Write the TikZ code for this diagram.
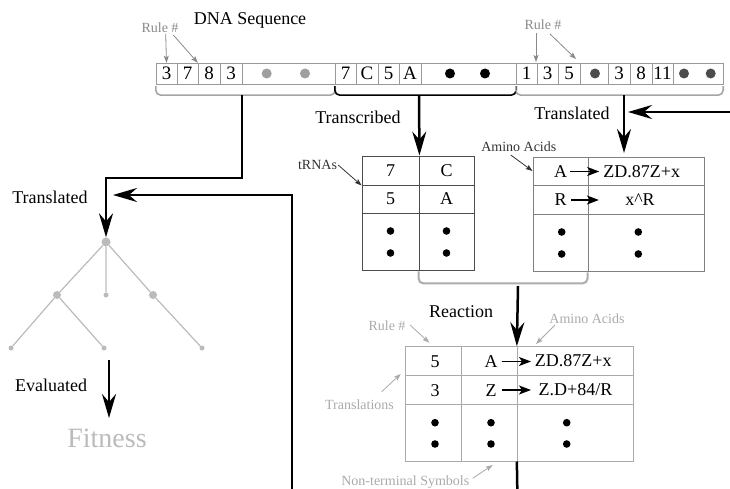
\documentclass[tikz,border=0pt]{standalone}
\usepackage{fontspec}
\setmainfont{Liberation Serif}
\usetikzlibrary{arrows.meta}

\definecolor{lblgray}{HTML}{8A8A8A}
\definecolor{palegray}{HTML}{AAAAAA}
\definecolor{treegray}{HTML}{BBBBBB}
\definecolor{darklbl}{HTML}{333333}

\begin{document}
\begin{tikzpicture}[x=1pt,y=-1pt,
  txt/.style={font=\fontsize{18}{20}\selectfont, inner sep=1pt},
  small/.style={font=\fontsize{14}{16}\selectfont, inner sep=1pt},
  scell/.style={draw=gray!80, minimum height=21pt, inner sep=0pt,
    font=\fontsize{19}{21}\selectfont, minimum width=#1},
  tcell/.style 2 args={draw, minimum width=#1, minimum height=#2, inner sep=0pt},
  bigarrow/.style={line width=2.5pt, -{Stealth[length=24pt,width=14pt,inset=8pt]}},
  plainline/.style={line width=2.5pt},
  smallarrow/.style={line width=1.3pt, -{Stealth[length=12pt,width=9pt,inset=3pt]}},
  lblarrow/.style={line width=0.8pt, -{Stealth[length=7pt,width=5pt,inset=1.5pt]}},
  brace/.style={line width=1.6pt, rounded corners=5pt},
  tdot/.style={circle, fill=treegray, inner sep=0pt, minimum size=#1},
  tline/.style={draw=treegray, line width=1.2pt},
]
\path[use as bounding box] (0,0) rectangle (730,489);

% ---------- DNA strip ----------
\node[txt] (title) at (250,20) {DNA Sequence};

\node[scell=21pt] (a1) at (166.5,73.5) {3};
\node[scell=21pt] (a2) at (187.5,73.5) {7};
\node[scell=22pt] (a3) at (209,73.5) {8};
\node[scell=22pt] (a4) at (231,73.5) {3};
\node[scell=93pt] (a5) at (288.5,73.5) {};
\node[scell=21pt] (b1) at (345.5,73.5) {7};
\node[scell=22pt] (b2) at (367,73.5) {C};
\node[scell=21pt] (b3) at (388.5,73.5) {5};
\node[scell=22pt] (b4) at (410,73.5) {A};
\node[scell=95pt] (b5) at (468.5,73.5) {};
\node[scell=21pt] (c1) at (526.5,73.5) {1};
\node[scell=21pt] (c2) at (547.5,73.5) {3};
\node[scell=22pt] (c3) at (569,73.5) {5};
\node[scell=28pt] (c4) at (594,73.5) {};
\node[scell=22pt] (c5) at (619,73.5) {3};
\node[scell=22pt] (c6) at (641,73.5) {8};
\node[scell=21pt] (c7) at (662.5,73.5) {11};
\node[scell=50pt] (c8) at (698,73.5) {};

\fill[gray!75] (266.7,73.5) circle[radius=5pt] (305,73.5) circle[radius=5pt];
\fill[black] (450,73.5) circle[radius=5pt] (485,73.5) circle[radius=5pt];
\fill[black!70] (595,73.5) circle[radius=5pt] (684,73.5) circle[radius=5pt]
  (710.7,73.5) circle[radius=5pt];

% brackets under the three segments
\draw[brace, draw=gray!70] ([yshift=-2pt]a1.south west) -- ++(0,9) -| ([yshift=-2pt]a5.south east);
\draw[brace, draw=black] ([yshift=-2pt]b1.south west) -- ++(0,9) -| ([yshift=-2pt]b5.south east);
\draw[brace, draw=gray!70] ([yshift=-2pt]c1.south west) -- ++(0,9) -| ([yshift=-2pt]c8.south east);

% rule-number pointers on the strip
\node[small, text=lblgray] (ruleA) at (160,28) {Rule \#};
\draw[lblarrow, draw=lblgray] (165.7,34) -- (a1.north);
\draw[lblarrow, draw=lblgray] (173.3,35) -- (a3.north west);
\node[small, text=lblgray] (ruleC) at (543,25) {Rule \#};
\draw[lblarrow, draw=lblgray] (536,33) -- (536,62);
\draw[lblarrow, draw=lblgray] (550,34) -- (576,59);

% ---------- tree branch (left) ----------
\coordinate (brA) at (242,95);
\coordinate (bendA) at (242,178);
\node[tdot=9pt] (root) at (106,242) {};
\draw[bigarrow] (brA) -- (bendA) -| (root.north);
\node[txt] (transL) at (50,197) {Translated};

\coordinate (loopS) at (292,489);
\coordinate (loopE) at (113,195);
\draw[bigarrow] (loopS) |- (loopE);

\node[tdot=8pt] (n1) at (57,295) {};
\node[tdot=5pt] (n2) at (106,295) {};
\node[tdot=8pt] (n3) at (153,295) {};
\node[tdot=5pt] (m1) at (11,348) {};
\node[tdot=5pt] (m2) at (104,348) {};
\node[tdot=5pt] (m3) at (202,348) {};
\path[tline] (root) -- (n1) (root) -- (n2) (root) -- (n3)
  (n1) -- (m1) (n1) -- (m2) (n3) -- (m3);

\node[txt] (evalL) at (51,385) {Evaluated};
\node[font=\fontsize{28}{30}\selectfont, text=treegray, inner sep=0pt] (fit) at (107,438) {Fitness};
\coordinate (evS) at (109,360);
\coordinate (evE) at (109,418);
\draw[bigarrow] (evS) -- (evE);

% ---------- tRNA table ----------
\coordinate (brB) at (419,96);
\begin{scope}[every node/.append style={draw=black!70, line width=0.9pt}]
\node[tcell={57pt}{29pt}] (t11) at (390.5,170.5) {};
\node[tcell={55pt}{29pt}] (t12) at (446.5,170.5) {};
\node[tcell={57pt}{28pt}] (t21) at (390.5,199) {};
\node[tcell={55pt}{28pt}] (t22) at (446.5,199) {};
\node[tcell={57pt}{57pt}] (t31) at (390.5,241.5) {};
\node[tcell={55pt}{57pt}] (t32) at (446.5,241.5) {};
\end{scope}
\node[txt] at (t11) {7};
\node[txt] at (t12) {C};
\node[txt] at (t21) {5};
\node[txt] at (t22) {A};
\foreach \c in {t31,t32}
  \fill ([yshift=10.5pt]\c.center) circle[radius=3.8pt] ([yshift=-11.5pt]\c.center) circle[radius=3.8pt];
\draw[bigarrow] (brB) -- (t11.north east);
\node[txt] (transc) at (358,117) {Transcribed};
\node[small, text=darklbl] (trna) at (317.5,165) {tRNAs};
\draw[lblarrow, draw=darklbl] (trna.east) -- (t11.south west);

% ---------- amino acid table ----------
\coordinate (brC) at (624,95);
\coordinate (feedS) at (730,112);
\coordinate (feedE) at (628,112);
\begin{scope}[every node/.append style={draw=black!50, line width=0.9pt}]
\node[tcell={55pt}{28pt}] (u11) at (560.5,171) {};
\node[tcell={116pt}{28pt}] (u12) at (646,171) {};
\node[tcell={55pt}{29pt}] (u21) at (560.5,199.5) {};
\node[tcell={116pt}{29pt}] (u22) at (646,199.5) {};
\node[tcell={55pt}{57pt}] (u31) at (560.5,242.5) {};
\node[tcell={116pt}{57pt}] (u32) at (646,242.5) {};
\end{scope}
\node[txt] (ua1) at (560.7,171.5) {A};
\node[txt] (uz1) at (641.7,171.5) {ZD.87Z+x};
\node[txt] (ur2) at (560.7,200) {R};
\node[txt] (ux2) at (640,200) {x\textasciicircum R};
\draw[smallarrow] ([xshift=1.5pt]ua1.east) -- ([xshift=-3pt]uz1.west);
\draw[smallarrow] ([xshift=3pt]ur2.east) -- ++(28,0);
\fill (561.7,232) circle[radius=3.8pt] (561.7,254) circle[radius=3.8pt]
  (638.3,232) circle[radius=3.8pt] (638.3,254) circle[radius=3.8pt];
\draw[bigarrow] (brC) -- (624,153);
\draw[bigarrow] (feedS) -- (feedE);
\node[txt] (transR) at (572,113) {Translated};
\node[small, text=darklbl] (amino1) at (518.8,146.5) {Amino Acids};
\draw[lblarrow, draw=darklbl] (510.7,155) -- (u11.west);

% ---------- reaction ----------
\draw[brace, draw=gray!65, line width=2pt] ([yshift=-1pt]t32.south west) -- ++(0,12) -| ([yshift=-1pt]u32.south west);
\coordinate (brD) at (518,286);
\node[txt] (react) at (461,312) {Reaction};

\begin{scope}[every node/.append style={draw=palegray, line width=0.9pt}]
\node[tcell={56pt}{29pt}] (r11) at (433.7,361.2) {};
\node[tcell={55.6pt}{29pt}] (r12) at (489.5,361.2) {};
\node[tcell={116pt}{29pt}] (r13) at (575.3,361.2) {};
\node[tcell={56pt}{28.6pt}] (r21) at (433.7,390) {};
\node[tcell={55.6pt}{28.6pt}] (r22) at (489.5,390) {};
\node[tcell={116pt}{28.6pt}] (r23) at (575.3,390) {};
\node[tcell={56pt}{56.7pt}] (r31) at (433.7,432.7) {};
\node[tcell={55.6pt}{56.7pt}] (r32) at (489.5,432.7) {};
\node[tcell={116pt}{56.7pt}] (r33) at (575.3,432.7) {};
\end{scope}
\draw[bigarrow] (brD) -- (r13.north west);
\node[txt] at (435,362) {5};
\node[txt] (ra1) at (491,362) {A};
\node[txt] (rz1) at (573.3,361) {ZD.87Z+x};
\node[txt] at (435,390.5) {3};
\node[txt] (ra2) at (491,390.5) {Z};
\node[txt] (rz2) at (575.5,390) {Z.D+84/R};
\draw[smallarrow] (501.7,361.5) -- (531,361.5);
\draw[smallarrow] (501.7,390) -- (531,390);
\fill (435,422.7) circle[radius=3.8pt] (435,444) circle[radius=3.8pt]
  (491,422.7) circle[radius=3.8pt] (491,444) circle[radius=3.8pt]
  (566.7,422.7) circle[radius=3.8pt] (566.7,444) circle[radius=3.8pt];
\coordinate (outS) at (517.3,489);
\draw[plainline] (r33.south west) -- (outS);

% gray annotations of the reaction table
\node[small, text=palegray] (ruleR) at (387,326) {Rule \#};
\draw[lblarrow, draw=palegray] (410,325) -- (429.3,342.7);
\node[small, text=palegray] (aminoR) at (587,318.5) {Amino Acids};
\draw[lblarrow, draw=palegray] (555,325) -- (536,344);
\node[small, text=palegray] (transl) at (359.5,404.3) {Translations};
\draw[lblarrow, draw=palegray] (381.7,391.7) -- (400.7,374);
\node[small, text=palegray] (nonterm) at (405.3,481.7) {Non-terminal Symbols};
\draw[lblarrow, draw=palegray] (472.7,478.3) -- (492.7,465);
\end{tikzpicture}
\end{document}
